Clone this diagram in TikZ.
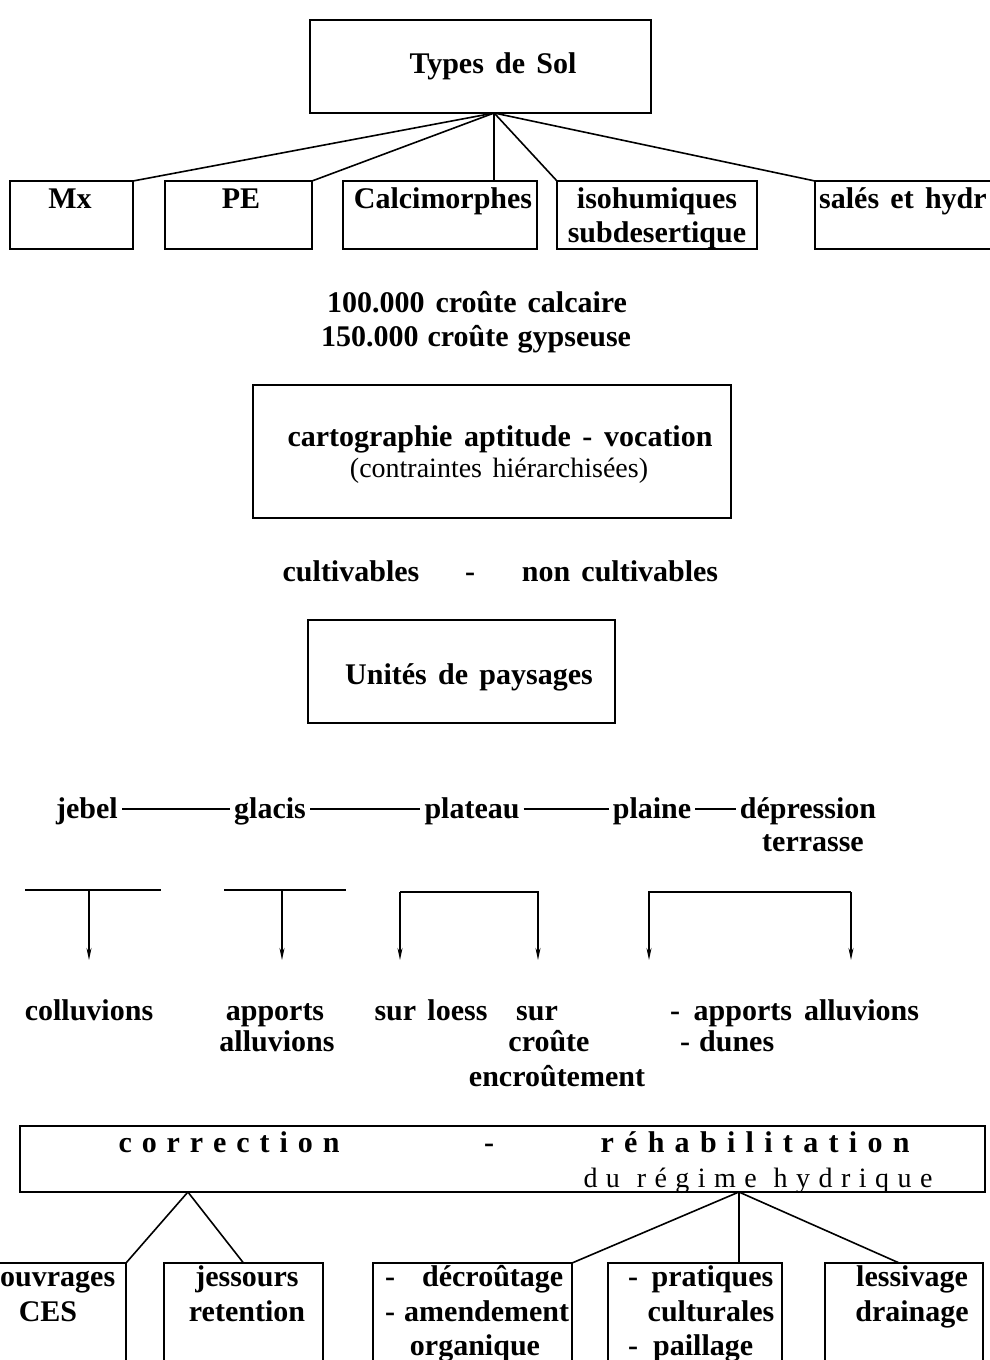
\documentclass[tikz,border=0pt]{standalone}
\usepackage{fontspec}
\setmainfont{Liberation Serif}[WordSpace=1.5]
\usetikzlibrary{arrows.meta,calc}
\newcommand{\spreadto}[2]{\makebox[#1][s]{#2}}
\begin{document}
\begin{tikzpicture}[x=1pt,y=-1pt,
  box/.style={draw,line width=1.8pt,inner sep=0pt,outer sep=0pt,anchor=north west},
  lb/.style={font=\bfseries\fontsize{30}{34}\selectfont,inner sep=0pt,anchor=base},
  lbw/.style={lb,anchor=base west},
  rg/.style={font=\fontsize{28}{32}\selectfont,inner sep=0pt,anchor=base},
  rowtxt/.style={lb,text height=22pt,text depth=4pt,inner xsep=4pt,inner ysep=0pt},
  link/.style={line width=1.6pt},
  arr/.style={line width=1.5pt,-{Stealth[length=12pt,width=5pt]}}
]
\useasboundingbox (0,0) rectangle (990,1360);
\clip (0,0) rectangle (990,1360);
\fill[white] (0,0) rectangle (990,1360);

% ---------- Types de Sol ----------
\node[box,minimum width=341pt,minimum height=93pt] (types) at (310,20) {};
\node[lb] (ttypes) at (493,73) {Types de Sol};
\coordinate (apexA) at ($(types.south west)!0.54!(types.south east)$);

\node[box,minimum width=123pt,minimum height=68pt] (mx) at (10,181) {};
\node[box,minimum width=147pt,minimum height=68pt] (pe) at (165,181) {};
\node[box,minimum width=194pt,minimum height=68pt] (calc) at (343,181) {};
\node[box,minimum width=200pt,minimum height=68pt] (iso) at (557,181) {};
\node[box,minimum width=220pt,minimum height=68pt] (sal) at (815,181) {};

\draw[link] (apexA) -- (mx.north east);
\draw[link] (apexA) -- (pe.north east);
\draw[link] (apexA) -- (apexA |- calc.north);
\draw[link] (apexA) -- (iso.north west);
\draw[link] (apexA) -- (sal.north west);

\node[lb] (tmx) at (70,208) {Mx};
\node[lb] (tpe) at (241,208) {PE};
\node[lb] (tcalc) at (443,208) {Calcimorphes};
\node[lb] (tiso1) at (657,208) {isohumiques};
\node[lb] (tiso2) at (657,242) {subdesertique};
\node[lbw] (tsal) at (819,208) {salés et hydr};

% ---------- croute ----------
\node[lb] (cr1) at (477,312) {\spreadto{300pt}{100.000 croûte calcaire}};
\node[lb] (cr2) at (476,346) {\spreadto{310pt}{150.000 croûte gypseuse}};

% ---------- cartographie ----------
\node[box,minimum width=478pt,minimum height=133pt] (carto) at (253,385) {};
\node[lb] (tcarto) at (500,446) {\spreadto{425pt}{cartographie aptitude - vocation}};
\node[rg] (tcontr) at (499,477) {(contraintes hiérarchisées)};

\node[lb] (cult) at (351,581) {cultivables};
\node[lb] (dash1) at (470,581) {-};
\node[lb] (ncult) at (620,581) {non cultivables};

% ---------- Unites de paysages ----------
\node[box,minimum width=307pt,minimum height=103pt] (unit) at (308,620) {};
\node[lb] (tunit) at (469,684) {Unités de paysages};

% ---------- relief row ----------
\node[rowtxt] (jebel) at (87,818) {jebel};
\node[rowtxt] (glacis) at (270,818) {glacis};
\node[rowtxt] (plateau) at (472,818) {plateau};
\node[rowtxt] (plaine) at (652,818) {plaine};
\node[rowtxt] (depr) at (808,818) {dépression};
\node[lb] (terr) at (813,851) {terrasse};
\draw[link] (jebel.east) -- (glacis.west);
\draw[link] (glacis.east) -- (plateau.west);
\draw[link] (plateau.east) -- (plaine.west);
\draw[link] (plaine.east) -- (depr.west);

% ---------- brackets and arrows ----------
\coordinate (b1l) at (25,890);  \coordinate (b1r) at (161,890);  \coordinate (b1m) at (89,890);
\coordinate (b2l) at (224,890); \coordinate (b2r) at (346,890);  \coordinate (b2m) at (282,890);
\coordinate (b3l) at (400,892); \coordinate (b3r) at (538,892);
\coordinate (b4l) at (649,892); \coordinate (b4r) at (851,892);
\coordinate (e1) at (89,960);  \coordinate (e2) at (282,960);
\coordinate (e3) at (400,960); \coordinate (e4) at (538,960);
\coordinate (e5) at (649,960); \coordinate (e6) at (851,960);
\draw[link] (b1l) -- (b1r);
\draw[link] (b2l) -- (b2r);
\draw[arr] (b1m) -- (e1);
\draw[arr] (b2m) -- (e2);
\draw[arr] (b3l) -- (b3r) -- (e4);
\draw[arr] (b3l) -- (e3);
\draw[arr] (b4r) -- (b4l) -- (e5);
\draw[arr] (b4r) -- (e6);

% ---------- deposits ----------
\node[lb] (coll) at (89,1020) {colluvions};
\node[lb] (app1) at (275,1020) {apports};
\node[lb] (all1) at (277,1051) {alluvions};
\node[lb] (loess) at (431,1020) {sur loess};
\node[lb] (sur) at (537,1020) {sur};
\node[lb] (crou) at (549,1051) {croûte};
\node[lb] (encr) at (557,1086) {encroûtement};
\node[lbw] (appall) at (670,1020) {-\hspace{0.45em}apports\hspace{0.4em}alluvions};
\node[lbw] (dunes) at (680,1051) {-\hspace{0.3em}dunes};

% ---------- correction box ----------
\node[box,minimum width=965pt,minimum height=66pt] (corr) at (20,1126) {};
\node[lb] (tcorr) at (229,1152) {\spreadto{221pt}{c o r r e c t i o n}};
\node[lb] (dash2) at (489,1152) {-};
\node[lb] (treh) at (755,1152) {\spreadto{309pt}{r é h a b i l i t a t i o n}};
\node[rg] (tregime) at (758,1187) {\spreadto{349pt}{d u\hspace{0.3em} r é g i m e\hspace{0.3em} h y d r i q u e}};
\coordinate (apexB) at ($(corr.south west)!0.174!(corr.south east)$);
\coordinate (apexC) at ($(corr.south west)!0.745!(corr.south east)$);

% ---------- bottom boxes ----------
\node[box,minimum width=140pt,minimum height=120pt] (ouv) at (-14,1263) {};
\node[box,minimum width=159pt,minimum height=120pt] (jes) at (164,1263) {};
\node[box,minimum width=199pt,minimum height=120pt] (decr) at (373,1263) {};
\node[box,minimum width=174pt,minimum height=120pt] (prat) at (608,1263) {};
\node[box,minimum width=158pt,minimum height=120pt] (less) at (825,1263) {};

\draw[link] (apexB) -- (ouv.north east);
\draw[link] (apexB) -- (jes.north);
\draw[link] (apexC) -- (decr.north east);
\draw[link] (apexC) -- (apexC |- prat.north);
\draw[link] (apexC) -- ($(less.north west)!0.47!(less.north east)$);

\node[lbw] (touv) at (0,1286) {ouvrages};
\node[lb] (tces) at (48,1321) {CES};
\node[lb] (tjes) at (247,1286) {jessours};
\node[lb] (tret) at (247,1321) {retention};
\node[lbw] (tdecr) at (385,1286) {-\hspace{0.9em}décroûtage};
\node[lbw] (tamend) at (385,1321) {-\hspace{0.3em}amendement};
\node[lb] (torg) at (475,1355) {organique};
\node[lbw] (tprat) at (628,1286) {-\hspace{0.45em}pratiques};
\node[lb] (tcult) at (711,1321) {culturales};
\node[lbw] (tpail) at (628,1355) {-\hspace{0.5em}paillage};
\node[lb] (tless) at (912,1286) {lessivage};
\node[lb] (tdrain) at (912,1321) {drainage};
\end{tikzpicture}
\end{document}
